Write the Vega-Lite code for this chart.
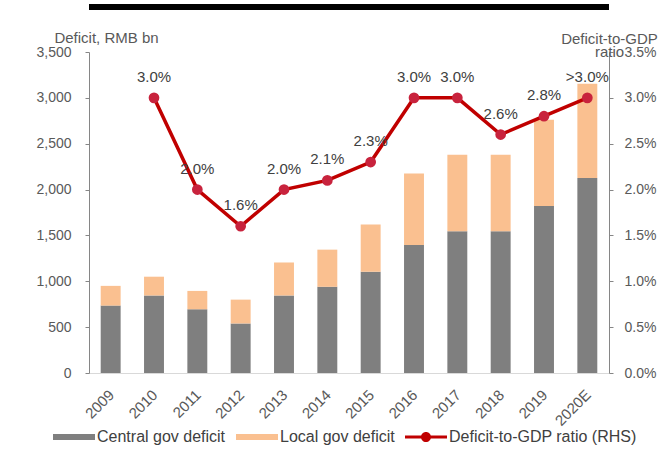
{
  "$schema": "https://vega.github.io/schema/vega-lite/v6.json",
  "width": 520,
  "height": 321,
  "autosize": {"type": "none"},
  "padding": {"left": 89, "top": 52, "right": 54, "bottom": 90},
  "background": "white",
  "config": {
    "font": "Liberation Sans",
    "view": {"stroke": null},
    "axis": {
      "labelFont": "Liberation Sans",
      "labelFontSize": 14,
      "labelColor": "#595959",
      "titleFont": "Liberation Sans",
      "titleFontSize": 15,
      "titleFontWeight": "normal",
      "titleColor": "#595959",
      "grid": false,
      "domainColor": "#868686",
      "tickColor": "#868686",
      "tickSize": 4
    },
    "legend": {
      "orient": "none",
      "legendX": -36,
      "legendY": 364,
      "direction": "horizontal",
      "title": null,
      "labelFont": "Liberation Sans",
      "labelFontSize": 16,
      "labelColor": "#404040",
      "labelLimit": 400,
      "symbolSize": 1764,
      "symbolStrokeWidth": 0,
      "symbolOpacity": 1,
      "labelOffset": 2,
      "columnPadding": 10
    }
  },
  "layer": [
    {
      "layer": [
        {
          "data": {
            "values": [
              {"year": "2009", "series": "Central gov deficit", "o": 1, "value": 735},
              {"year": "2009", "series": "Local gov deficit", "o": 2, "value": 215},
              {"year": "2010", "series": "Central gov deficit", "o": 1, "value": 845},
              {"year": "2010", "series": "Local gov deficit", "o": 2, "value": 205},
              {"year": "2011", "series": "Central gov deficit", "o": 1, "value": 695},
              {"year": "2011", "series": "Local gov deficit", "o": 2, "value": 200},
              {"year": "2012", "series": "Central gov deficit", "o": 1, "value": 540},
              {"year": "2012", "series": "Local gov deficit", "o": 2, "value": 260},
              {"year": "2013", "series": "Central gov deficit", "o": 1, "value": 845},
              {"year": "2013", "series": "Local gov deficit", "o": 2, "value": 360},
              {"year": "2014", "series": "Central gov deficit", "o": 1, "value": 940},
              {"year": "2014", "series": "Local gov deficit", "o": 2, "value": 405},
              {"year": "2015", "series": "Central gov deficit", "o": 1, "value": 1105},
              {"year": "2015", "series": "Local gov deficit", "o": 2, "value": 515},
              {"year": "2016", "series": "Central gov deficit", "o": 1, "value": 1395},
              {"year": "2016", "series": "Local gov deficit", "o": 2, "value": 780},
              {"year": "2017", "series": "Central gov deficit", "o": 1, "value": 1545},
              {"year": "2017", "series": "Local gov deficit", "o": 2, "value": 835},
              {"year": "2018", "series": "Central gov deficit", "o": 1, "value": 1545},
              {"year": "2018", "series": "Local gov deficit", "o": 2, "value": 835},
              {"year": "2019", "series": "Central gov deficit", "o": 1, "value": 1820},
              {"year": "2019", "series": "Local gov deficit", "o": 2, "value": 940},
              {"year": "2020E", "series": "Central gov deficit", "o": 1, "value": 2125},
              {"year": "2020E", "series": "Local gov deficit", "o": 2, "value": 1030}
            ]
          },
          "mark": {"type": "bar"},
          "encoding": {
            "x": {
              "field": "year",
              "type": "nominal",
              "scale": {
                "domain": ["2009", "2010", "2011", "2012", "2013", "2014", "2015", "2016", "2017", "2018", "2019", "2020E"],
                "paddingInner": 0.54,
                "paddingOuter": 0.27
              },
              "axis": {
                "title": null,
                "labelAngle": -45,
                "ticks": false,
                "domainColor": "#D9D9D9",
                "labelPadding": 14,
                "labelOffset": -4,
                "labelFontSize": 15
              }
            },
            "y": {
              "field": "value",
              "type": "quantitative",
              "stack": "zero",
              "scale": {"domain": [0, 3500]},
              "axis": {
                "values": [0, 500, 1000, 1500, 2000, 2500, 3000, 3500],
                "format": ",.0f",
                "title": "Deficit, RMB bn",
                "titleFontSize": 15,
                "titleAngle": 0,
                "titleAlign": "center",
                "titleBaseline": "middle",
                "titleX": 17,
                "titleY": -15,
                "labelPadding": 14
              }
            },
            "color": {
              "field": "series",
              "type": "nominal",
              "scale": {
                "domain": ["Central gov deficit", "Local gov deficit", "Deficit-to-GDP ratio (RHS)"],
                "range": ["#7F7F7F", "#FAC090", "#C00000"]
              },
              "legend": {
                "symbolType": "M-1,-0.14H1V0.14H-1Z",
                "encode": {
                  "symbols": {
                    "update": {
                      "shape": {
                        "signal": "datum.value === 'Deficit-to-GDP ratio (RHS)' ? 'M-1,-0.07H1V0.07H-1Z M0.24,0A0.24,0.24 0 1,1 -0.24,0A0.24,0.24 0 1,1 0.24,0Z' : 'M-1,-0.14H1V0.14H-1Z'"
                      }
                    }
                  }
                }
              }
            },
            "order": {"field": "o", "type": "quantitative"}
          }
        },
        {
          "data": {"values": [{"k": 1}]},
          "mark": {"type": "rule", "color": "#000000", "strokeWidth": 6, "clip": false},
          "encoding": {
            "y": {
              "datum": 3990,
              "type": "quantitative",
              "scale": {"domain": [0, 3500]},
              "axis": {
                "values": [0, 500, 1000, 1500, 2000, 2500, 3000, 3500],
                "format": ",.0f",
                "title": "Deficit, RMB bn",
                "titleFontSize": 15,
                "titleAngle": 0,
                "titleAlign": "center",
                "titleBaseline": "middle",
                "titleX": 17,
                "titleY": -15,
                "labelPadding": 14
              }
            }
          }
        }
      ]
    },
    {
      "data": {
        "values": [
          {"year": "2010", "ratio": 0.030, "label": "3.0%"},
          {"year": "2011", "ratio": 0.020, "label": "2.0%"},
          {"year": "2012", "ratio": 0.016, "label": "1.6%"},
          {"year": "2013", "ratio": 0.020, "label": "2.0%"},
          {"year": "2014", "ratio": 0.021, "label": "2.1%"},
          {"year": "2015", "ratio": 0.023, "label": "2.3%"},
          {"year": "2016", "ratio": 0.030, "label": "3.0%"},
          {"year": "2017", "ratio": 0.030, "label": "3.0%"},
          {"year": "2018", "ratio": 0.026, "label": "2.6%"},
          {"year": "2019", "ratio": 0.028, "label": "2.8%"},
          {"year": "2020E", "ratio": 0.030, "label": ">3.0%"}
        ]
      },
      "encoding": {
        "x": {
          "field": "year",
          "type": "nominal",
          "scale": {
            "domain": ["2009", "2010", "2011", "2012", "2013", "2014", "2015", "2016", "2017", "2018", "2019", "2020E"]
          }
        },
        "y": {
          "field": "ratio",
          "type": "quantitative",
          "scale": {"domain": [0, 0.035]},
          "axis": {
            "orient": "right",
            "values": [0, 0.005, 0.01, 0.015, 0.02, 0.025, 0.03, 0.035],
            "format": ".1%",
            "title": ["Deficit-to-GDP", "ratio"],
            "titleFontSize": 15,
            "titleFont": "Liberation Sans",
            "titleAngle": 0,
            "titleAlign": "center",
            "titleBaseline": "top",
            "titleX": 0,
            "titleY": -21,
            "titleLineHeight": 13,
            "labelPadding": 11
          }
        }
      },
      "layer": [
        {"mark": {"type": "line", "color": "#C00000", "strokeWidth": 3.5}},
        {"mark": {"type": "point", "filled": true, "color": "#C8233D", "size": 115, "opacity": 1}},
        {
          "mark": {"type": "text", "dy": -21, "fontSize": 15, "color": "#404040", "font": "Liberation Sans"},
          "encoding": {"text": {"field": "label"}}
        }
      ]
    }
  ],
  "resolve": {"scale": {"y": "independent"}}
}
